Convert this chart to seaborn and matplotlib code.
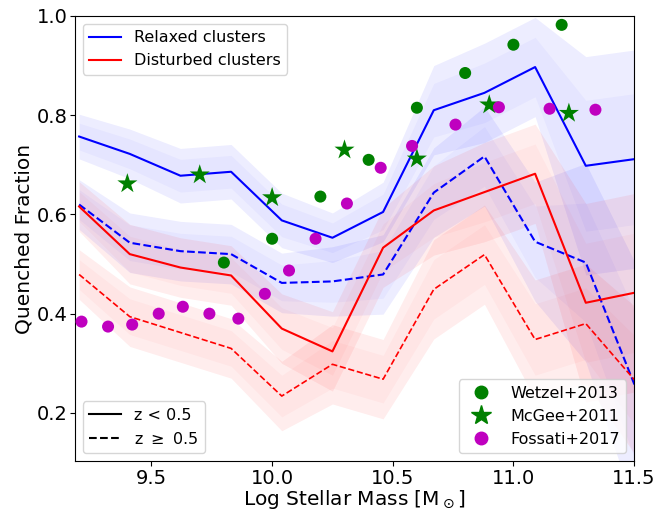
import numpy as np
import pandas as pd
import matplotlib
matplotlib.use("Agg")
import matplotlib.pyplot as plt
from matplotlib.lines import Line2D
import seaborn as sns

# Stellar-mass bins
log_mass = [9.20, 9.41, 9.62, 9.83, 10.04, 10.25, 10.46, 10.67, 10.88, 11.09, 11.30, 11.51]

# Quenched fractions and uncertainties
relaxed_lowz = [0.757, 0.722, 0.678, 0.686, 0.588, 0.553, 0.605, 0.810, 0.845, 0.897, 0.698, 0.712]
relaxed_lowz_err = [0.045, 0.05, 0.055, 0.055, 0.055, 0.05, 0.06, 0.09, 0.10, 0.10, 0.22, 0.22]
relaxed_highz = [0.620, 0.543, 0.526, 0.520, 0.462, 0.465, 0.479, 0.644, 0.717, 0.545, 0.503, 0.247]
relaxed_highz_err = [0.05, 0.06, 0.06, 0.06, 0.06, 0.07, 0.08, 0.09, 0.10, 0.12, 0.20, 0.25]
disturbed_lowz = [0.616, 0.520, 0.493, 0.477, 0.370, 0.324, 0.533, 0.608, 0.645, 0.682, 0.422, 0.443]
disturbed_lowz_err = [0.05, 0.06, 0.06, 0.06, 0.07, 0.08, 0.08, 0.09, 0.10, 0.10, 0.20, 0.20]
disturbed_highz = [0.479, 0.394, 0.362, 0.330, 0.234, 0.298, 0.268, 0.449, 0.519, 0.348, 0.380, 0.262]
disturbed_highz_err = [0.05, 0.06, 0.06, 0.06, 0.07, 0.08, 0.08, 0.10, 0.10, 0.12, 0.12, 0.15]

# Literature comparisons
wetzel_x = [9.8, 10.0, 10.2, 10.4, 10.6, 10.8, 11.0, 11.2]
wetzel_y = [0.503, 0.551, 0.636, 0.710, 0.815, 0.885, 0.942, 0.982]
mcgee_x = [9.4, 9.7, 10.0, 10.3, 10.6, 10.9, 11.23]
mcgee_y = [0.662, 0.680, 0.634, 0.730, 0.712, 0.821, 0.804]
fossati_x = [9.21, 9.32, 9.42, 9.53, 9.63, 9.74, 9.86, 9.97, 10.07, 10.18,
             10.31, 10.45, 10.58, 10.76, 10.94, 11.15, 11.34]
fossati_y = [0.384, 0.374, 0.378, 0.400, 0.414, 0.400, 0.390, 0.440, 0.487, 0.551,
             0.622, 0.694, 0.738, 0.781, 0.816, 0.813, 0.811]

fig = plt.figure(figsize=(6.55, 5.14), dpi=100)
ax = fig.add_axes([0.1145, 0.103, 0.8535, 0.866])

series = [
    (relaxed_lowz, relaxed_lowz_err, "blue", "-", 1.5),
    (relaxed_highz, relaxed_highz_err, "blue", "--", 1.5),
    (disturbed_lowz, disturbed_lowz_err, "red", "-", 1.5),
    (disturbed_highz, disturbed_highz_err, "red", "--", 1.2),
]

x = np.array(log_mass)
for y, err, color, ls, lw in series:
    y = np.array(y)
    err = np.array(err)
    ax.fill_between(x, y - err, y + err, color=color, alpha=0.07, lw=0)
    ax.fill_between(x, y - 0.6 * err, y + 0.6 * err, color=color, alpha=0.03, lw=0)
    df = pd.DataFrame({"mass": x, "frac": y})
    sns.lineplot(data=df, x="mass", y="frac", color=color, linestyle=ls, lw=lw, ax=ax)

sns.scatterplot(x=wetzel_x, y=wetzel_y, color="green", s=75, marker="o",
                edgecolor="none", ax=ax, zorder=5)
sns.scatterplot(x=mcgee_x, y=mcgee_y, color="green", s=230, marker="*",
                edgecolor="none", ax=ax, zorder=5)
sns.scatterplot(x=fossati_x, y=fossati_y, color="m", s=75, marker="o",
                edgecolor="none", ax=ax, zorder=5)

ax.set_xlim(9.183, 11.5)
ax.set_ylim(0.103, 1.0)
ax.set_xticks([9.5, 10.0, 10.5, 11.0, 11.5])
ax.set_yticks([0.2, 0.4, 0.6, 0.8, 1.0])
ax.tick_params(labelsize=14, pad=2)
ax.set_xlabel(r"Log Stellar Mass [M$_\odot$]", fontsize=14.5, labelpad=0)
ax.set_ylabel("Quenched Fraction", fontsize=14.5, labelpad=2)

h_cluster = [Line2D([], [], color="blue", lw=1.5), Line2D([], [], color="red", lw=1.5)]
leg1 = ax.legend(h_cluster, ["Relaxed clusters", "Disturbed clusters"],
                 loc="upper left", fontsize=11.5)
ax.add_artist(leg1)

h_z = [Line2D([], [], color="black", lw=1.5, ls="-"),
       Line2D([], [], color="black", lw=1.5, ls="--")]
leg2 = ax.legend(h_z, ["z < 0.5", "z $\\geq$ 0.5"], loc="lower left", fontsize=11.5)
ax.add_artist(leg2)

h_lit = [Line2D([], [], color="green", marker="o", ls="none", ms=9),
         Line2D([], [], color="green", marker="*", ls="none", ms=15),
         Line2D([], [], color="m", marker="o", ls="none", ms=9)]
ax.legend(h_lit, ["Wetzel+2013", "McGee+2011", "Fossati+2017"],
          loc="lower right", fontsize=11.5)

fig.savefig("out.png", dpi=100)
